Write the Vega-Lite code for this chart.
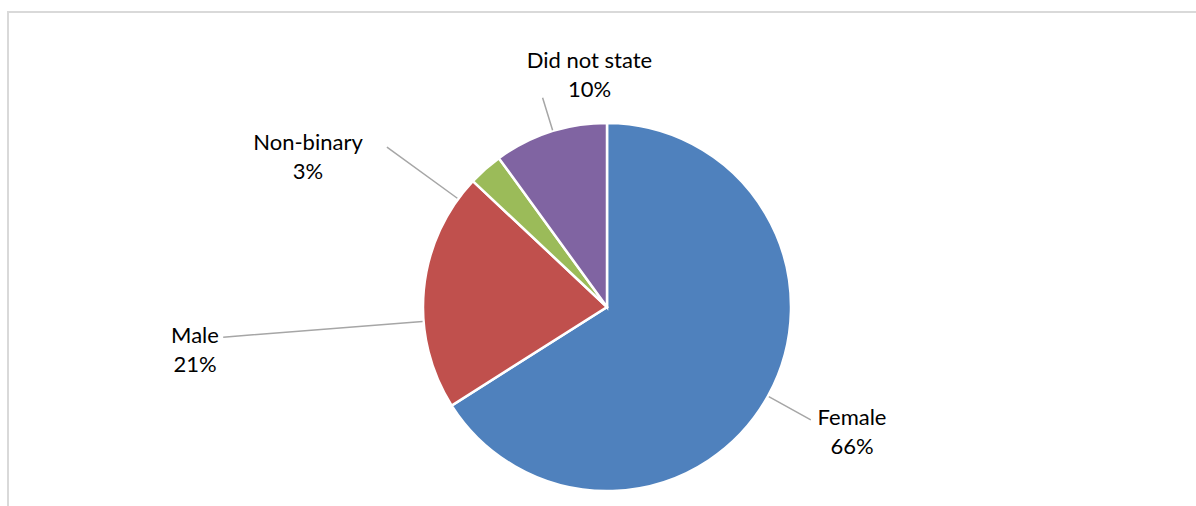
{
  "$schema": "https://vega.github.io/schema/vega-lite/v6.json",
  "width": 1198,
  "height": 590,
  "autosize": {"type": "none"},
  "padding": {"left": 8, "top": 12, "right": 0, "bottom": 0},
  "background": "white",
  "view": {"stroke": "#d9d9d9", "strokeWidth": 2},
  "config": {"view": {"stroke": "#d9d9d9", "strokeWidth": 2}},
  "data": {
    "values": [
      {"Category": "Female", "share": 0.66},
      {"Category": "Male", "share": 0.21},
      {"Category": "Non-binary", "share": 0.03},
      {"Category": "Did not state", "share": 0.10}
    ]
  },
  "transform": [{"window": [{"op": "row_number", "as": "idx"}]}],
  "resolve": {"scale": {"theta": "independent", "radius": "independent"}},
  "layer": [
    {
      "mark": {"type": "arc", "outerRadius": 184, "stroke": "white", "strokeWidth": 2.5},
      "encoding": {
        "theta": {"field": "share", "type": "quantitative", "stack": true},
        "color": {
          "field": "Category",
          "type": "nominal",
          "scale": {
            "domain": ["Female", "Male", "Non-binary", "Did not state"],
            "range": ["#4F81BD", "#C0504D", "#9BBB59", "#8064A2"]
          },
          "legend": null
        },
        "order": {"field": "idx", "type": "quantitative", "sort": "ascending"}
      }
    },
    {
      "mark": {"type": "arc", "innerRadius": 185, "filled": false, "stroke": "#A6A6A6", "strokeWidth": 1.5},
      "encoding": {
        "theta": {
          "field": "share", "type": "quantitative", "stack": null,
          "scale": {"type": "linear", "domain": [0.03, 0.1, 0.21, 0.66], "range": [5.3407, 5.9847, 4.6339, 2.0769], "zero": false, "nice": false}
        },
        "theta2": {"field": "share"},
        "radius": {
          "field": "share", "type": "quantitative",
          "scale": {"type": "linear", "domain": [0.03, 0.1, 0.21, 0.66], "range": [272, 219, 385, 233], "zero": false, "nice": false}
        }
      }
    },
    {
      "mark": {"type": "text", "font": "Lato", "fontSize": 22, "color": "#000000", "baseline": "middle", "align": "center", "dy": -14.5},
      "encoding": {
        "theta": {
          "field": "share", "type": "quantitative", "stack": null,
          "scale": {"type": "linear", "domain": [0.03, 0.1, 0.21, 0.66], "range": [5.176, 6.2076, 4.6071, 2.0443], "zero": false, "nice": false}
        },
        "radius": {
          "field": "share", "type": "quantitative",
          "scale": {"type": "linear", "domain": [0.03, 0.1, 0.21, 0.66], "range": [334.3, 231.7, 414.3, 275.3], "zero": false, "nice": false}
        },
        "text": {"field": "Category"}
      }
    },
    {
      "mark": {"type": "text", "font": "Lato", "fontSize": 22, "color": "#000000", "baseline": "middle", "align": "center", "dy": 14.5},
      "encoding": {
        "theta": {
          "field": "share", "type": "quantitative", "stack": null,
          "scale": {"type": "linear", "domain": [0.03, 0.1, 0.21, 0.66], "range": [5.176, 6.2076, 4.6071, 2.0443], "zero": false, "nice": false}
        },
        "radius": {
          "field": "share", "type": "quantitative",
          "scale": {"type": "linear", "domain": [0.03, 0.1, 0.21, 0.66], "range": [334.3, 231.7, 414.3, 275.3], "zero": false, "nice": false}
        },
        "text": {"field": "share", "format": ".0%"}
      }
    }
  ]
}
